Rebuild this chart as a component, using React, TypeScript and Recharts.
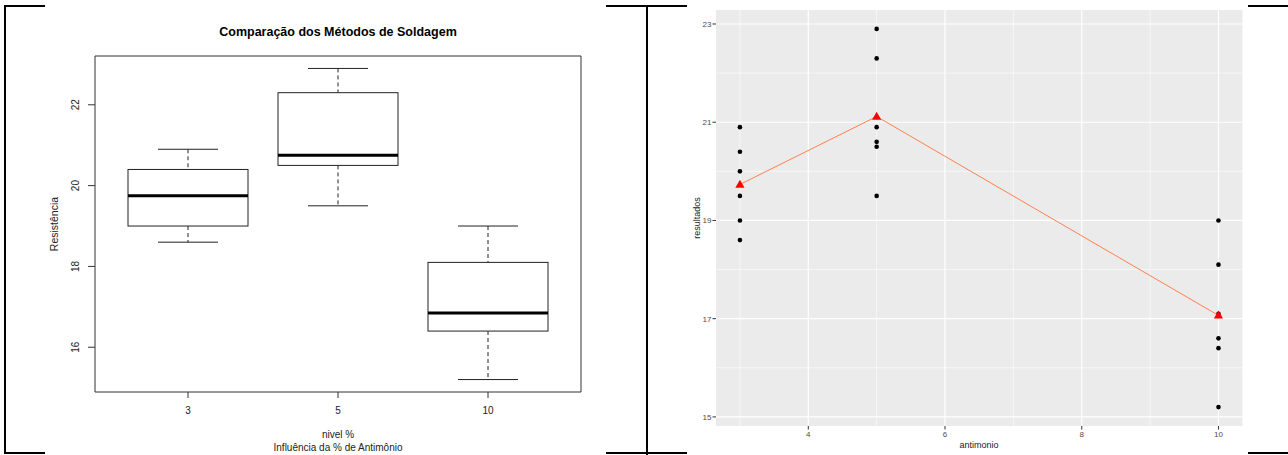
import { ComposedChart, Bar, Scatter, XAxis, YAxis, CartesianGrid } from "recharts";

// observações de resistência por nível de antimônio (%)
const niveis = ["3", "5", "10"];
const posicoes = [1, 2, 3];
const antimonio = [3, 5, 10];
const res3 = [20.9, 20.4, 20.0, 19.5, 19.0, 18.6];
const res5 = [22.9, 22.3, 20.9, 20.6, 20.5, 19.5];
const res10 = [19.0, 18.1, 17.1, 16.6, 16.4, 15.2];
const grupos = [res3, res5, res10];

const boxLimX = [0.38, 3.62];
const boxLimY = [14.892, 23.208];
const boxTicksY = [16, 18, 20, 22];
const ggLimX = [2.65, 10.35];
const ggLimY = [14.815, 23.285];
const ggTicksY = [15, 17, 19, 21, 23];
const ggMinorY = [16, 18, 20, 22];
const ggTicksX = [4, 6, 8, 10];
const ggMinorX = [3, 5, 7, 9];

const FONT = "'Liberation Sans', Arial, sans-serif";

// fivenum de Tukey, igual ao boxplot do R
function fivenum(v: number[]) {
  const s = [...v].sort((a, b) => a - b);
  const n = s.length;
  const n4 = Math.floor((n + 3) / 2) / 2;
  const d = [1, n4, (n + 1) / 2, n + 1 - n4, n];
  return d.map((i) => 0.5 * (s[Math.floor(i) - 1] + s[Math.ceil(i) - 1]));
}
const media = (v: number[]) => v.reduce((a, b) => a + b, 0) / v.length;

const boxData = niveis.map((nivel, i) => {
  const [min, q1, med, q3, max] = fivenum(grupos[i]);
  return { nivel, pos: posicoes[i], min, q1, med, q3, max, range: [min, max] };
});

const pontos = grupos.flatMap((g, i) => g.map((y) => ({ x: antimonio[i], y })));
const medias = grupos.map((g, i) => ({ x: antimonio[i], y: media(g) }));

function BoxShape(props: any) {
  const { x, y, width, height, payload } = props;
  const { min, q1, med, q3, max } = payload;
  const k = height / (max - min);
  const py = (v: number) => y + (max - v) * k;
  const cx = x + width / 2;
  const st = "#222";
  return (
    <g>
      <line x1={cx} x2={cx} y1={py(max)} y2={py(q3)} stroke={st} strokeDasharray="4 3" />
      <line x1={cx} x2={cx} y1={py(q1)} y2={py(min)} stroke={st} strokeDasharray="4 3" />
      <line x1={cx - width / 4} x2={cx + width / 4} y1={py(max)} y2={py(max)} stroke={st} />
      <line x1={cx - width / 4} x2={cx + width / 4} y1={py(min)} y2={py(min)} stroke={st} />
      <rect x={x} y={py(q3)} width={width} height={py(q1) - py(q3)} fill="#fff" stroke={st} />
      <line x1={x} x2={x + width} y1={py(med)} y2={py(med)} stroke="#000" strokeWidth={3} />
    </g>
  );
}

const BoxTickX = ({ x, y, payload }: any) => (
  <text x={x} y={y + 14} textAnchor="middle" fontSize={10} fill="#222" fontFamily={FONT}>
    {niveis[posicoes.indexOf(payload.value)]}
  </text>
);

const BoxTickY = ({ x, y, payload }: any) => (
  <text x={x - 7} y={y} textAnchor="middle" fontSize={10} fill="#222" fontFamily={FONT}
    transform={`rotate(-90, ${x - 7}, ${y})`}>
    {payload.value}
  </text>
);

const GgTickX = ({ x, y, payload }: any) => (
  <text x={x} y={y + 5.5} textAnchor="middle" fontSize={8} fill="#4D4D4D" fontFamily={FONT}>
    {payload.value}
  </text>
);

const GgTickY = ({ x, y, payload }: any) => (
  <text x={x} y={y + 2.9} textAnchor="end" fontSize={8} fill="#4D4D4D" fontFamily={FONT}>
    {payload.value}
  </text>
);

const Ponto = (p: any) => <circle cx={p.cx} cy={p.cy} r={2.3} fill="#000" />;
const Triangulo = (p: any) => (
  <polygon
    points={`${p.cx},${p.cy - 4.8} ${p.cx - 4.6},${p.cy + 3.2} ${p.cx + 4.6},${p.cy + 3.2}`}
    fill="#FF0000"
  />
);

const txt = (extra: React.CSSProperties): React.CSSProperties => ({
  position: "absolute",
  fontFamily: FONT,
  whiteSpace: "nowrap",
  lineHeight: 1,
  ...extra,
});

const borda = (l: number, t: number, w: number, h: number) => (
  <div style={{ position: "absolute", left: l, top: t, width: w, height: h, background: "#000" }} />
);

export default function App() {
  return (
    <div style={{ position: "absolute", left: 0, top: 0, width: 1288, height: 455, background: "#fff", overflow: "hidden" }}>
      {/* boxplot (R base) */}
      <div style={{ position: "absolute", left: 0, top: 0 }}>
        <ComposedChart width={648} height={455} data={boxData} margin={{ top: 56, right: 67, bottom: 33, left: 55 }}>
          <CartesianGrid xAxisId="b" yAxisId="l" stroke="#333" fill="none"
            horizontalValues={boxLimY} verticalValues={boxLimX} />
          <XAxis xAxisId="b" type="number" dataKey="pos" domain={boxLimX} ticks={posicoes} allowDataOverflow height={30}
            axisLine={false} tickLine={{ stroke: "#333" }} tickSize={6} tick={<BoxTickX />} />
          <YAxis yAxisId="l" type="number" domain={boxLimY} ticks={boxTicksY} allowDataOverflow
            width={40} axisLine={false} tickLine={{ stroke: "#333" }} tickSize={7} tick={<BoxTickY />} />
          <Bar xAxisId="b" yAxisId="l" dataKey="range" barSize={120} shape={BoxShape} isAnimationActive={false} />
        </ComposedChart>
        <div style={txt({ left: 338, top: 26, transform: "translateX(-50%)", fontSize: 12.5, fontWeight: "bold", color: "#000" })}>
          Comparação dos Métodos de Soldagem
        </div>
        <div style={txt({ left: 54, top: 224, transform: "translate(-50%, -50%) rotate(-90deg)", fontSize: 10.5, color: "#222" })}>
          Resistência
        </div>
        <div style={txt({ left: 338, top: 430, transform: "translateX(-50%)", fontSize: 10, color: "#222" })}>
          nivel %
        </div>
        <div style={txt({ left: 338, top: 443, transform: "translateX(-50%)", fontSize: 10, color: "#222" })}>
          Influência da % de Antimônio
        </div>
      </div>

      {/* dispersão + médias (ggplot) */}
      <div style={{ position: "absolute", left: 648, top: 0 }}>
        <ComposedChart width={640} height={455} margin={{ top: 10, right: 45.6, bottom: 9, left: 48 }}>
          <CartesianGrid fill="#EBEBEB" stroke="#fff" strokeWidth={0.6}
            horizontalValues={ggMinorY} verticalValues={ggMinorX} />
          <CartesianGrid stroke="#fff" strokeWidth={1.2}
            horizontalValues={ggTicksY} verticalValues={ggTicksX} />
          <XAxis type="number" dataKey="x" domain={ggLimX} ticks={ggTicksX} allowDataOverflow height={20}
            axisLine={false} tickLine={{ stroke: "#333" }} tickSize={3.5} tick={<GgTickX />} />
          <YAxis type="number" dataKey="y" domain={ggLimY} ticks={ggTicksY} allowDataOverflow width={20}
            axisLine={false} tickLine={{ stroke: "#333" }} tickSize={3.5} tickMargin={1} tick={<GgTickY />} />
          <Scatter data={pontos} shape={Ponto} isAnimationActive={false} />
          <Scatter data={medias} shape={Triangulo} line={{ stroke: "#FF7F50", strokeWidth: 1 }}
            isAnimationActive={false} />
        </ComposedChart>
        <div style={txt({ left: 331, top: 441, transform: "translateX(-50%)", fontSize: 9, color: "#222" })}>
          antimonio
        </div>
        <div style={txt({ left: 49, top: 218, transform: "translate(-50%, -50%) rotate(-90deg)", fontSize: 9, color: "#222" })}>
          resultados
        </div>
      </div>

      {/* molduras pretas da composição */}
      {borda(4, 5, 41, 2)}
      {borda(606, 5, 81, 2)}
      {borda(1248, 5, 40, 2)}
      {borda(4, 452, 41, 2)}
      {borda(606, 452, 81, 2)}
      {borda(1248, 452, 40, 2)}
      {borda(4, 5, 2, 449)}
      {borda(646, 5, 2, 450)}
    </div>
  );
}
